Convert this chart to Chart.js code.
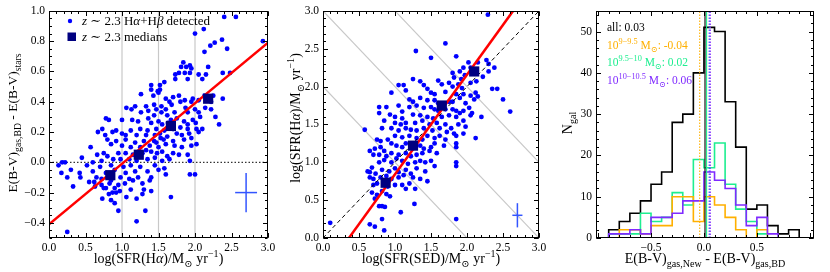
<!DOCTYPE html>
<html>
<head>
<meta charset="utf-8">
<script src="https://cdn.jsdelivr.net/npm/chart.js@4.4.1/dist/chart.umd.min.js"></script>
<style>
  body { margin: 0; background: #fff; }
  #wrap { position: relative; width: 830px; height: 272px; }
  canvas { position: absolute; left: 0; top: 0; }
</style>
</head>
<body>
<div id="wrap">
  <canvas id="c1" width="830" height="272"></canvas>
  <canvas id="c2" width="830" height="272"></canvas>
  <canvas id="c3" width="830" height="272"></canvas>
</div>
<script>
// ---------- panel 1: E(B-V) difference vs SFR(Ha) ----------
const p1Points = [
  [2.40,0.96],[2.56,0.96],[2.12,0.88],[2.0,0.85],[2.93,0.80],[2.37,0.81],[2.27,0.79],[2.21,0.77],[2.44,0.75],[2.13,0.73],
  [1.84,0.66],[1.81,0.63],[1.88,0.63],[1.93,0.64],[1.95,0.62],[2.18,0.63],[1.78,0.59],[1.86,0.59],[1.93,0.59],[2.38,0.59],
  [2.48,0.59],[1.73,0.58],[2.05,0.58],[2.15,0.58],[1.58,0.53],[1.73,0.55],[1.90,0.55],[2.10,0.55],[1.40,0.51],[1.52,0.51],
  [1.40,0.48],[1.52,0.48],[1.49,0.47],[1.50,0.46],[1.26,0.45],[1.43,0.44],[1.70,0.43],[1.78,0.44],[1.97,0.42],[2.13,0.44],
  [2.25,0.44],[2.38,0.42],[1.60,0.42],[1.65,0.40],[1.80,0.40],[1.86,0.41],[1.95,0.40],[2.05,0.41],[2.22,0.40],[1.44,0.38],
  [1.54,0.37],[1.68,0.38],[1.33,0.37],[1.18,0.37],[1.06,0.36],[1.13,0.35],[1.36,0.34],[1.47,0.35],[1.60,0.35],[1.87,0.36],
  [2.14,0.36],[2.22,0.35],[2.28,0.30],[2.33,0.25],[2.00,0.35],[2.05,0.33],[1.90,0.33],[1.54,0.33],[1.26,0.33],[1.44,0.31],
  [1.62,0.31],[1.72,0.33],[1.75,0.29],[2.07,0.30],[1.97,0.28],[0.78,0.29],[0.82,0.28],[1.00,0.28],[1.14,0.28],[1.22,0.27],
  [1.36,0.29],[1.40,0.26],[1.50,0.27],[1.55,0.25],[1.63,0.26],[1.67,0.28],[1.85,0.27],[1.90,0.25],[2.01,0.26],[2.10,0.22],
  [2.02,0.22],[1.90,0.22],[1.80,0.23],[1.70,0.22],[1.58,0.21],[1.47,0.22],[1.35,0.21],[1.25,0.22],[1.12,0.21],[0.92,0.21],
  [0.87,0.20],[0.67,0.20],[0.73,0.22],[0.77,0.18],[1.00,0.19],[1.05,0.18],[1.20,0.18],[1.33,0.18],[1.45,0.18],[1.52,0.19],
  [1.62,0.17],[1.75,0.19],[1.82,0.18],[1.92,0.19],[1.95,0.16],[2.05,0.20],[1.85,0.15],[1.70,0.14],[1.57,0.15],[1.44,0.14],
  [1.30,0.14],[1.18,0.13],[1.05,0.15],[0.92,0.14],[0.80,0.15],[0.85,0.12],[1.00,0.11],[1.12,0.10],[1.25,0.10],[1.38,0.11],
  [1.50,0.10],[1.60,0.12],[1.72,0.11],[1.82,0.10],[1.95,0.11],[2.02,0.12],[1.47,0.13],[1.53,0.16],[0.57,0.10],[0.75,0.06],
  [0.80,0.04],[0.95,0.06],[1.05,0.06],[1.15,0.05],[1.28,0.06],[1.33,0.08],[1.40,0.07],[1.48,0.06],[1.55,0.07],[1.62,0.04],
  [1.70,0.06],[1.78,0.05],[1.90,0.05],[0.66,0.05],[0.88,0.02],[0.98,0.02],[1.10,0.02],[1.20,0.01],[1.35,0.02],[1.45,0.03],
  [1.55,0.01],[1.65,0.02],[0.72,0.01],[0.60,0.00],[0.45,0.03],[0.22,0.00],[0.18,0.00],[1.93,0.01],[0.13,-0.02],[0.52,-0.02],
  [0.70,-0.03],[0.85,-0.02],[1.02,-0.03],[1.12,-0.02],[1.25,-0.03],[1.45,-0.02],[1.58,-0.04],[0.30,-0.05],[0.60,-0.06],[0.78,-0.07],
  [0.90,-0.05],[1.05,-0.07],[1.18,-0.06],[1.35,-0.06],[1.50,-0.05],[1.60,-0.08],[0.17,-0.07],[0.42,-0.07],[1.93,-0.08],[2.00,-0.08],
  [0.25,-0.10],[0.43,-0.10],[0.65,-0.10],[0.72,-0.11],[0.85,-0.12],[0.98,-0.10],[1.10,-0.11],[1.22,-0.10],[1.40,-0.10],[0.55,-0.13],
  [0.62,-0.13],[0.72,-0.15],[0.83,-0.14],[0.95,-0.15],[1.04,-0.14],[1.15,-0.12],[1.28,-0.14],[1.38,-0.12],[0.33,-0.16],[0.63,-0.16],
  [0.75,-0.17],[0.78,-0.17],[0.90,-0.17],[0.97,-0.19],[1.30,-0.18],[1.12,-0.18],[0.87,-0.20],[0.82,-0.21],[0.92,-0.20],[1.40,-0.19],
  [1.20,-0.24],[0.73,-0.24],[0.85,-0.25],[0.90,-0.27],[1.67,-0.23],[1.32,-0.32],[0.95,-0.32],[1.20,-0.39],[0.25,-0.46],[1.28,-0.21],
  [1.06,-0.23]
];
const p1Medians = [[0.84,-0.085],[1.23,0.05],[1.67,0.24],[2.18,0.42]];
const p1Fit = [[0,-0.41],[3,0.79]];
const p1Err = { x: 2.7, y: -0.2, dx: 0.15, dy: 0.13 };
const p1Grid = [1.0, 1.5, 2.0];
const p1XTicks = [0.0, 0.5, 1.0, 1.5, 2.0, 2.5, 3.0];
const p1YTicks = [-0.4, -0.2, 0.0, 0.2, 0.4, 0.6, 0.8, 1.0];

// ---------- panel 2: SFR(Ha) vs SFR(SED) ----------
const p2Points = [
  [2.29,2.95],[1.70,2.57],[1.29,2.47],[1.50,2.38],[1.85,2.40],[2.02,2.32],[2.15,2.32],[2.27,2.35],[2.30,2.30],[2.38,2.25],
  [1.95,2.25],[2.05,2.25],[1.90,2.20],[2.22,2.13],[2.30,2.20],[1.80,2.18],[1.82,2.12],[1.92,2.10],[1.97,2.15],[2.05,2.05],
  [2.13,2.07],[2.35,1.97],[2.42,1.97],[2.50,1.83],[2.60,1.67],[1.05,2.02],[1.12,2.02],[1.25,2.10],[1.35,2.07],[1.40,2.02],
  [1.60,2.08],[1.65,2.03],[1.75,2.05],[1.80,2.00],[1.88,2.03],[1.93,1.98],[1.15,1.95],[1.45,1.97],[1.50,1.92],[1.55,1.90],
  [1.70,1.93],[1.85,1.90],[1.95,1.90],[2.05,1.88],[2.12,1.92],[2.15,1.87],[2.20,1.60],[0.95,1.92],[0.88,1.73],[1.20,1.83],
  [1.25,1.80],[1.35,1.85],[1.45,1.82],[1.55,1.82],[1.60,1.78],[1.75,1.80],[1.80,1.80],[1.90,1.85],[1.98,1.78],[2.03,1.72],
  [2.10,1.83],[0.78,1.73],[0.78,1.65],[1.05,1.75],[1.20,1.73],[1.30,1.75],[1.40,1.72],[1.50,1.73],[1.55,1.70],[1.60,1.68],
  [1.70,1.70],[1.80,1.70],[1.85,1.68],[1.90,1.65],[1.95,1.68],[2.07,1.65],[2.05,1.62],[0.93,1.63],[1.10,1.67],[1.00,1.60],
  [1.10,1.58],[1.25,1.63],[1.35,1.62],[1.45,1.60],[1.53,1.58],[1.65,1.60],[1.75,1.62],[1.85,1.60],[1.95,1.55],[0.58,1.43],
  [0.85,1.55],[1.00,1.52],[1.08,1.50],[1.15,1.52],[1.28,1.52],[1.38,1.55],[1.48,1.50],[1.58,1.52],[1.70,1.50],[1.78,1.45],
  [1.88,1.50],[1.98,1.47],[0.82,1.45],[0.95,1.45],[1.05,1.42],[1.15,1.45],[1.22,1.43],[1.30,1.42],[1.40,1.45],[1.52,1.42],
  [1.62,1.45],[1.72,1.40],[1.82,1.38],[1.95,1.38],[1.85,1.35],[0.75,1.30],[0.80,1.28],[0.90,1.30],[1.00,1.35],[1.10,1.33],
  [1.20,1.35],[1.30,1.32],[1.38,1.30],[1.45,1.35],[1.55,1.32],[1.62,1.35],[1.70,1.30],[2.12,1.32],[0.72,1.18],[0.80,1.20],
  [0.85,1.15],[0.95,1.25],[1.02,1.22],[1.10,1.20],[1.15,1.25],[1.28,1.20],[1.35,1.22],[1.40,1.18],[1.50,1.20],[1.55,1.25],
  [1.68,1.22],[1.85,1.25],[1.85,1.20],[0.65,1.15],[0.70,1.10],[0.78,1.10],[0.88,1.08],[0.95,1.12],[1.05,1.10],[1.15,1.12],
  [1.22,1.08],[1.30,1.10],[1.38,1.12],[1.48,1.15],[1.58,1.12],[0.65,0.87],[0.68,0.93],[0.78,1.00],[0.85,1.03],[0.95,1.00],
  [1.02,1.05],[1.10,1.02],[1.18,0.98],[1.28,1.00],[1.35,1.02],[1.42,1.00],[1.50,1.02],[1.85,1.00],[0.62,0.88],[0.73,0.85],
  [0.82,0.90],[0.92,0.88],[1.00,0.92],[1.05,0.87],[1.15,0.90],[1.22,0.85],[1.30,0.92],[1.42,0.88],[1.55,0.95],[1.85,0.95],
  [0.65,0.80],[0.70,0.78],[0.80,0.80],[0.88,0.82],[0.95,0.78],[1.05,0.80],[1.12,0.83],[1.25,0.80],[1.35,0.78],[1.45,0.75],
  [0.75,0.72],[0.85,0.70],[0.90,0.68],[1.00,0.70],[1.10,0.70],[1.20,0.72],[1.28,0.65],[1.15,0.65],[0.70,0.70],[0.68,0.60],
  [0.75,0.57],[0.82,0.62],[0.88,0.58],[0.93,0.55],[0.72,0.52],[0.78,0.42],[0.82,0.42],[0.86,0.41],[1.27,0.45],[1.08,0.34],
  [0.82,0.25],[0.65,0.18],[0.72,0.15],[0.85,0.10],[1.85,0.25],[0.10,0.20]
];
const p2Medians = [[0.87,0.73],[1.25,1.22],[1.65,1.75],[2.10,2.20]];
const p2Fit = [[0.36,0],[2.64,3.0]];
const p2OneToOne = [[0,0],[3,3]];
const p2Err = { x: 2.7, y: 0.3, dx: 0.07, dy: 0.16 };
const p2Diagonals = [2, 3, 4];   // lines of constant x + y
const p2Ticks = [0.0, 0.5, 1.0, 1.5, 2.0, 2.5, 3.0];

// ---------- panel 3: histograms of E(B-V) difference ----------
const binEdges = [-0.9,-0.8,-0.7,-0.6,-0.5,-0.4,-0.3,-0.2,-0.1,0.0,0.1,0.2,0.3,0.4,0.5,0.6,0.7,0.8,0.9];
const nAll  = [2,4,6,9,13,16,28,30,40,51,50,33,22,7,8,3,1,2];
const nLow  = [0,2,2,1,3,3,10,10,4,10,8,5,2,0,2,0,0,0];
const nMid  = [1,1,1,6,4,5,11,8,19,17,23,13,7,4,1,0,0,0];
const nHigh = [1,1,2,1,5,5,6,9,9,16,14,12,8,3,5,1,0,0];
const meanAll = 0.01, meanLow = -0.04, meanMid = 0.025, meanHigh = 0.06, meanBlue = 0.05;
const p3Labels = ['all: 0.03', '-0.04', '0.02', '0.06'];
const p3XTicks = [-0.5, 0.0, 0.5];
const p3YTicks = [0, 10, 20, 30, 40, 50];

// ---------- helpers ----------
const FONT = '"Liberation Serif", "DejaVu Serif", serif';
const ORANGE = '#FFB000', GREEN = '#1EEE90', PURPLE = '#7F2AFF';

const fmt1 = v => (Math.abs(v) < 1e-9 ? '0.0' : v.toFixed(1)).replace('-', '\u2212');

function steps(min, max, step) {
  const out = [];
  const n0 = Math.ceil(min / step - 1e-6), n1 = Math.floor(max / step + 1e-6);
  for (let i = n0; i <= n1; i++) out.push(i * step);
  return out;
}

function fontFor(k, size) {
  const small = k === 'b' || k === 'p';
  return (k === 'i' ? 'italic ' : '') + (small ? size * 0.72 : size) + 'px ' + FONT;
}
function richWidth(ctx, parts, size) {
  let w = 0;
  parts.forEach(([t, k]) => { ctx.font = fontFor(k, size); w += ctx.measureText(t).width; });
  return w;
}
function richText(ctx, parts, x, y, size, align, color) {
  let cx = align === 'center' ? x - richWidth(ctx, parts, size) / 2 : x;
  ctx.fillStyle = color;
  ctx.textAlign = 'left';
  ctx.textBaseline = 'alphabetic';
  parts.forEach(([t, k]) => {
    ctx.font = fontFor(k, size);
    const dy = k === 'b' ? size * 0.28 : k === 'p' ? -size * 0.42 : 0;
    ctx.fillText(t, cx, y + dy);
    cx += ctx.measureText(t).width;
  });
}
function richRotated(ctx, parts, x, y, size) {
  ctx.save();
  ctx.translate(x, y);
  ctx.rotate(-Math.PI / 2);
  richText(ctx, parts, 0, 0, size, 'center', '#000');
  ctx.restore();
}

function frameAndTicks(chart, xs, ys) {
  const { ctx, chartArea: a, scales: { x, y } } = chart;
  ctx.save();
  ctx.strokeStyle = '#000';
  ctx.lineWidth = 1;
  const L = Math.round(a.left) + 0.5, R = Math.round(a.right) - 0.5;
  const T = Math.round(a.top) + 0.5, B = Math.round(a.bottom) - 0.5;
  ctx.strokeRect(L, T, R - L, B - T);
  ctx.beginPath();
  [[xs.major, 4.5], [xs.minor, 2.5]].forEach(([st, len]) => {
    steps(x.min, x.max, st).forEach(v => {
      const px = Math.round(x.getPixelForValue(v)) + 0.5;
      ctx.moveTo(px, B); ctx.lineTo(px, B - len);
      ctx.moveTo(px, T); ctx.lineTo(px, T + len);
    });
  });
  [[ys.major, 4.5], [ys.minor, 2.5]].forEach(([st, len]) => {
    steps(y.min, y.max, st).forEach(v => {
      const py = Math.round(y.getPixelForValue(v)) + 0.5;
      ctx.moveTo(L, py); ctx.lineTo(L + len, py);
      ctx.moveTo(R, py); ctx.lineTo(R - len, py);
    });
  });
  ctx.stroke();
  ctx.restore();
}

function baseOptions(area, xr, yr, xTicks, yTicks, xfmt, yfmt) {
  const tickFont = { family: FONT, size: 11.5 };
  return {
    responsive: false,
    animation: false,
    devicePixelRatio: 1,
    layout: { padding: { left: area.left - 30, right: 830 - area.right, top: area.top, bottom: 0 } },
    plugins: { legend: { display: false }, tooltip: { enabled: false } },
    scales: {
      x: {
        type: 'linear', min: xr[0], max: xr[1],
        grid: { display: false, drawTicks: false }, border: { display: false },
        afterBuildTicks: s => { s.ticks = xTicks.map(v => ({ value: v })); },
        afterFit: s => { s.height = 272 - area.bottom; },
        ticks: { padding: 3, font: tickFont, color: '#000', maxRotation: 0, autoSkip: false, callback: xfmt }
      },
      y: {
        type: 'linear', min: yr[0], max: yr[1],
        grid: { display: false, drawTicks: false }, border: { display: false },
        afterBuildTicks: s => { s.ticks = yTicks.map(v => ({ value: v })); },
        afterFit: s => { s.width = 30; },
        ticks: { padding: 4, font: tickFont, color: '#000', autoSkip: false, callback: yfmt }
      }
    }
  };
}

const toXY = arr => arr.map(([x, y]) => ({ x, y }));
const scatterSet = pts => ({
  type: 'scatter', data: toXY(pts), pointRadius: 2.4, pointBackgroundColor: '#0000FF', pointBorderWidth: 0
});
const medianSet = pts => ({
  type: 'scatter', data: toXY(pts), pointStyle: 'rect', pointRadius: 7.2,
  pointBackgroundColor: '#000080', pointBorderWidth: 0
});
const lineSet = (pts, color, width, dash) => ({
  type: 'line', data: toXY(pts), borderColor: color, borderWidth: width, borderDash: dash || [],
  pointRadius: 0, fill: false, tension: 0
});
const errSets = e => [
  lineSet([[e.x - e.dx, e.y], [e.x + e.dx, e.y]], '#3355FF', 1.5),
  lineSet([[e.x, e.y - e.dy], [e.x, e.y + e.dy]], '#3355FF', 1.5)
];

// ---------- chart 1 ----------
const area1 = { left: 49, right: 268, top: 8, bottom: 238 };
new Chart(document.getElementById('c1'), {
  data: {
    datasets: [
      medianSet(p1Medians),
      lineSet(p1Fit, '#FF0000', 2.5),
      scatterSet(p1Points),
      ...errSets(p1Err),
      lineSet([[0, 0], [3, 0]], '#000', 1, [1.5, 2]),
      ...p1Grid.map(g => lineSet([[g, -0.5], [g, 1.0]], '#C8C8C8', 1.2))
    ]
  },
  options: baseOptions(area1, [0, 3], [-0.5, 1.0], p1XTicks, p1YTicks, fmt1, fmt1),
  plugins: [{
    id: 'deco1',
    afterDraw(chart) {
      const ctx = chart.ctx;
      frameAndTicks(chart, { major: 0.5, minor: 0.1 }, { major: 0.2, minor: 0.05 });
      richText(ctx, [['log(SFR(H', ''], ['\u03B1', 'i'], [')/M', ''], ['\u2299', 'b'], [' yr', ''], ['\u22121', 'p'], [')', '']],
        158.5, 263, 14, 'center', '#000');
      richRotated(ctx, [['E(B-V)', ''], ['gas,BD', 'b'], [' - E(B-V)', ''], ['stars', 'b']], 17, 123, 13.5);
      // legend
      ctx.save();
      ctx.fillStyle = '#0000FF';
      ctx.beginPath(); ctx.arc(70, 21, 2.2, 0, Math.PI * 2); ctx.fill();
      ctx.fillStyle = '#000080';
      ctx.fillRect(67.5, 32.5, 8.5, 8.5);
      ctx.restore();
      richText(ctx, [['z', 'i'], [' \u223C 2.3 H', ''], ['\u03B1', 'i'], ['+H', ''], ['\u03B2', 'i'], [' detected', '']], 82, 25, 13, 'left', '#000');
      richText(ctx, [['z', 'i'], [' \u223C 2.3 medians', '']], 82, 41, 13, 'left', '#000');
    }
  }]
});

// ---------- chart 2 ----------
const area2 = { left: 323, right: 539, top: 8, bottom: 238 };
new Chart(document.getElementById('c2'), {
  data: {
    datasets: [
      medianSet(p2Medians),
      lineSet(p2Fit, '#FF0000', 2.5),
      lineSet(p2OneToOne, '#000', 1, [4, 3]),
      scatterSet(p2Points),
      ...errSets(p2Err),
      ...p2Diagonals.map(c => lineSet([[c - 3, 3], [3, c - 3]], '#C8C8C8', 1.2))
    ]
  },
  options: baseOptions(area2, [0, 3], [0, 3], p2Ticks, p2Ticks, fmt1, fmt1),
  plugins: [{
    id: 'deco2',
    afterDraw(chart) {
      const ctx = chart.ctx;
      frameAndTicks(chart, { major: 0.5, minor: 0.1 }, { major: 0.5, minor: 0.1 });
      richText(ctx, [['log(SFR(SED)/M', ''], ['\u2299', 'b'], [' yr', ''], ['\u22121', 'p'], [')', '']],
        431, 263, 14, 'center', '#000');
      richRotated(ctx, [['log(SFR(H', ''], ['\u03B1', 'i'], [')/M', ''], ['\u2299', 'b'], [' yr', ''], ['\u22121', 'p'], [')', '']],
        300, 118, 14);
    }
  }]
});

// ---------- chart 3 ----------
function histPoints(counts) {
  const pts = [[binEdges[0], 0]];
  counts.forEach((c, i) => pts.push([binEdges[i], c]));
  pts.push([binEdges[binEdges.length - 1], counts[counts.length - 1]]);
  pts.push([binEdges[binEdges.length - 1], 0]);
  return pts;
}
const histSet = (counts, color) => Object.assign(lineSet(histPoints(counts), color, 1.6), { stepped: 'before' });
const vline = (x, color, dash) => lineSet([[x, 0], [x, 55]], color, 1.1, dash);

const area3 = { left: 596, right: 814, top: 8, bottom: 238 };
new Chart(document.getElementById('c3'), {
  data: {
    datasets: [
      vline(meanHigh, PURPLE, [1.5, 1.5]),
      vline(meanBlue, '#3344FF', [1.5, 1.5]),
      vline(meanMid, GREEN),
      vline(meanAll, '#000'),
      vline(meanLow, ORANGE, [1.5, 1.5]),
      histSet(nHigh, PURPLE),
      histSet(nLow, ORANGE),
      histSet(nMid, GREEN),
      histSet(nAll, '#000')
    ]
  },
  options: baseOptions(area3, [-1.02, 1.04], [0, 55], p3XTicks, p3YTicks, fmt1, v => String(v)),
  plugins: [{
    id: 'deco3',
    afterDraw(chart) {
      const ctx = chart.ctx;
      frameAndTicks(chart, { major: 0.5, minor: 0.1 }, { major: 10, minor: 2 });
      richText(ctx, [['E(B-V)', ''], ['gas,New', 'b'], [' - E(B-V)', ''], ['gas,BD', 'b']], 705, 263, 14, 'center', '#000');
      richRotated(ctx, [['N', ''], ['gal', 'b']], 572, 123, 14);
      const sz = 11.5, lx = 607;
      richText(ctx, [[p3Labels[0], '']], lx, 31, sz, 'left', '#000');
      richText(ctx, [['10', ''], ['9\u22129.5', 'p'], [' M', ''], ['\u2299', 'b'], [': ' + p3Labels[1], '']], lx, 48.5, sz, 'left', ORANGE);
      richText(ctx, [['10', ''], ['9.5\u221210', 'p'], [' M', ''], ['\u2299', 'b'], [': ' + p3Labels[2], '']], lx, 66, sz, 'left', GREEN);
      richText(ctx, [['10', ''], ['10\u221210.5', 'p'], [' M', ''], ['\u2299', 'b'], [': ' + p3Labels[3], '']], lx, 84, sz, 'left', PURPLE);
    }
  }]
});
</script>
</body>
</html>
